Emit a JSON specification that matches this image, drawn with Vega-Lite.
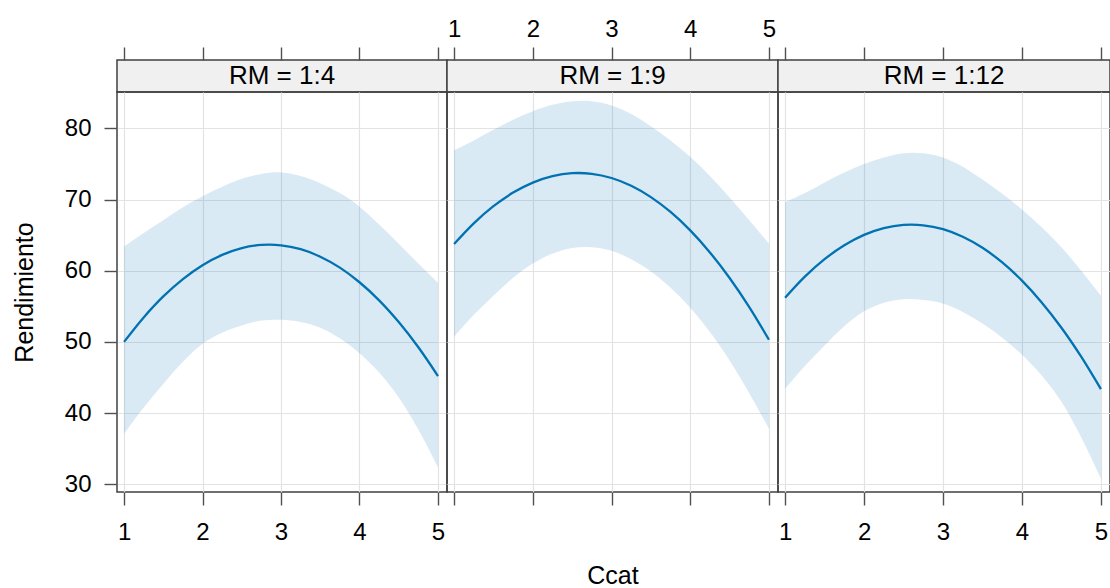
{
  "$schema": "https://vega.github.io/schema/vega-lite/v6.json",
  "padding": {"left": 11, "top": 16, "right": 0, "bottom": 0},
  "background": "white",
  "config": {
    "font": "Liberation Sans",
    "view": {"stroke": "#404040", "strokeWidth": 1.5},
    "axis": {
      "labelFont": "Liberation Sans", "titleFont": "Liberation Sans",
      "labelFontSize": 24, "titleFontSize": 25, "titleFontWeight": "normal",
      "labelColor": "black", "titleColor": "black",
      "tickColor": "#505050", "tickWidth": 1.4, "tickSize": 13,
      "gridColor": "#e3e3e3", "gridWidth": 1.2, "domain": false
    },
    "text": {"font": "Liberation Sans"}
  },
  "datasets": {
    "fit": [
      {"RM": "1:4", "Ccat": 1, "fit": 50.00, "lower": 37.1, "upper": 63.4},
      {"RM": "1:4", "Ccat": 1.25, "fit": 53.44, "lower": 40.8, "upper": 65.3},
      {"RM": "1:4", "Ccat": 1.5, "fit": 56.39, "lower": 44.1, "upper": 67.1},
      {"RM": "1:4", "Ccat": 1.75, "fit": 58.83, "lower": 47.2, "upper": 68.9},
      {"RM": "1:4", "Ccat": 2, "fit": 60.78, "lower": 49.75, "upper": 70.45},
      {"RM": "1:4", "Ccat": 2.25, "fit": 62.22, "lower": 51.3, "upper": 71.8},
      {"RM": "1:4", "Ccat": 2.5, "fit": 63.17, "lower": 52.3, "upper": 72.9},
      {"RM": "1:4", "Ccat": 2.75, "fit": 63.62, "lower": 53.0, "upper": 73.6},
      {"RM": "1:4", "Ccat": 3, "fit": 63.57, "lower": 53.1, "upper": 73.8},
      {"RM": "1:4", "Ccat": 3.25, "fit": 63.02, "lower": 52.8, "upper": 73.3},
      {"RM": "1:4", "Ccat": 3.5, "fit": 61.97, "lower": 52.0, "upper": 72.3},
      {"RM": "1:4", "Ccat": 3.75, "fit": 60.43, "lower": 50.5, "upper": 70.9},
      {"RM": "1:4", "Ccat": 4, "fit": 58.38, "lower": 48.4, "upper": 69.0},
      {"RM": "1:4", "Ccat": 4.25, "fit": 55.84, "lower": 45.7, "upper": 66.5},
      {"RM": "1:4", "Ccat": 4.5, "fit": 52.79, "lower": 42.2, "upper": 63.8},
      {"RM": "1:4", "Ccat": 4.75, "fit": 49.25, "lower": 37.7, "upper": 61.0},
      {"RM": "1:4", "Ccat": 5, "fit": 45.21, "lower": 32.4, "upper": 58.3},
      {"RM": "1:9", "Ccat": 1, "fit": 63.74, "lower": 50.7, "upper": 76.9},
      {"RM": "1:9", "Ccat": 1.25, "fit": 66.65, "lower": 53.8, "upper": 78.3},
      {"RM": "1:9", "Ccat": 1.5, "fit": 69.06, "lower": 56.5, "upper": 79.8},
      {"RM": "1:9", "Ccat": 1.75, "fit": 70.97, "lower": 59.0, "upper": 81.2},
      {"RM": "1:9", "Ccat": 2, "fit": 72.38, "lower": 61.0, "upper": 82.4},
      {"RM": "1:9", "Ccat": 2.25, "fit": 73.29, "lower": 62.4, "upper": 83.3},
      {"RM": "1:9", "Ccat": 2.5, "fit": 73.70, "lower": 63.2, "upper": 83.8},
      {"RM": "1:9", "Ccat": 2.75, "fit": 73.61, "lower": 63.3, "upper": 83.8},
      {"RM": "1:9", "Ccat": 3, "fit": 73.02, "lower": 62.8, "upper": 83.2},
      {"RM": "1:9", "Ccat": 3.25, "fit": 71.93, "lower": 61.6, "upper": 82.0},
      {"RM": "1:9", "Ccat": 3.5, "fit": 70.34, "lower": 59.9, "upper": 80.3},
      {"RM": "1:9", "Ccat": 3.75, "fit": 68.25, "lower": 57.6, "upper": 78.3},
      {"RM": "1:9", "Ccat": 4, "fit": 65.66, "lower": 54.8, "upper": 76.0},
      {"RM": "1:9", "Ccat": 4.25, "fit": 62.57, "lower": 51.4, "upper": 73.3},
      {"RM": "1:9", "Ccat": 4.5, "fit": 58.98, "lower": 47.4, "upper": 70.3},
      {"RM": "1:9", "Ccat": 4.75, "fit": 54.89, "lower": 42.8, "upper": 67.1},
      {"RM": "1:9", "Ccat": 5, "fit": 50.30, "lower": 37.8, "upper": 63.8},
      {"RM": "1:12", "Ccat": 1, "fit": 56.20, "lower": 43.4, "upper": 69.6},
      {"RM": "1:12", "Ccat": 1.25, "fit": 59.16, "lower": 46.6, "upper": 70.9},
      {"RM": "1:12", "Ccat": 1.5, "fit": 61.62, "lower": 49.5, "upper": 72.4},
      {"RM": "1:12", "Ccat": 1.75, "fit": 63.57, "lower": 52.2, "upper": 73.8},
      {"RM": "1:12", "Ccat": 2, "fit": 65.03, "lower": 54.3, "upper": 75.0},
      {"RM": "1:12", "Ccat": 2.25, "fit": 65.98, "lower": 55.5, "upper": 75.9},
      {"RM": "1:12", "Ccat": 2.5, "fit": 66.43, "lower": 56.0, "upper": 76.5},
      {"RM": "1:12", "Ccat": 2.75, "fit": 66.38, "lower": 55.9, "upper": 76.5},
      {"RM": "1:12", "Ccat": 3, "fit": 65.83, "lower": 55.4, "upper": 75.9},
      {"RM": "1:12", "Ccat": 3.25, "fit": 64.77, "lower": 54.2, "upper": 74.6},
      {"RM": "1:12", "Ccat": 3.5, "fit": 63.22, "lower": 52.6, "upper": 72.8},
      {"RM": "1:12", "Ccat": 3.75, "fit": 61.16, "lower": 50.6, "upper": 70.8},
      {"RM": "1:12", "Ccat": 4, "fit": 58.61, "lower": 48.2, "upper": 68.6},
      {"RM": "1:12", "Ccat": 4.25, "fit": 55.55, "lower": 45.3, "upper": 66.1},
      {"RM": "1:12", "Ccat": 4.5, "fit": 51.99, "lower": 41.6, "upper": 63.3},
      {"RM": "1:12", "Ccat": 4.75, "fit": 47.92, "lower": 36.6, "upper": 60.0},
      {"RM": "1:12", "Ccat": 5, "fit": 43.36, "lower": 30.8, "upper": 56.5}
    ],
    "strips": [
      {"RM": "1:4", "label": "RM = 1:4"},
      {"RM": "1:9", "label": "RM = 1:9"},
      {"RM": "1:12", "label": "RM = 1:12"}
    ]
  },
  "columns": 3,
  "spacing": 0,
  "bounds": "flush",
  "concat": [
    {
      "width": 330, "height": 32,
      "view": {"fill": "#f0f0f0", "stroke": "#404040", "strokeWidth": 1.5},
      "layer": [
        {
          "data": {"name": "fit"},
          "transform": [{"filter": "datum.RM === '1:4'"}],
          "mark": {"type": "point", "opacity": 0},
          "encoding": {
            "x": {"field": "Ccat", "type": "quantitative",
              "scale": {"domain": [0.91, 5.115], "nice": false, "zero": false},
              "axis": {"orient": "top", "values": [1, 2, 3, 4, 5], "labels": false, "grid": false, "title": null}}
          }
        },
        {
          "data": {"name": "strips"},
          "transform": [{"filter": "datum.RM === '1:4'"}],
          "mark": {"type": "text", "fontSize": 26, "baseline": "middle", "align": "center", "color": "black"},
          "encoding": {"text": {"field": "label", "type": "nominal"}}
        }
      ]
    },
    {
      "width": 331, "height": 32,
      "view": {"fill": "#f0f0f0", "stroke": "#404040", "strokeWidth": 1.5},
      "layer": [
        {
          "data": {"name": "fit"},
          "transform": [{"filter": "datum.RM === '1:9'"}],
          "mark": {"type": "point", "opacity": 0},
          "encoding": {
            "x": {"field": "Ccat", "type": "quantitative",
              "scale": {"domain": [0.91, 5.115], "nice": false, "zero": false},
              "axis": {"orient": "top", "values": [1, 2, 3, 4, 5], "format": "d", "labels": true, "labelPadding": 6, "grid": false, "title": null}}
          }
        },
        {
          "data": {"name": "strips"},
          "transform": [{"filter": "datum.RM === '1:9'"}],
          "mark": {"type": "text", "fontSize": 26, "baseline": "middle", "align": "center", "color": "black"},
          "encoding": {"text": {"field": "label", "type": "nominal"}}
        }
      ]
    },
    {
      "width": 332, "height": 32,
      "view": {"fill": "#f0f0f0", "stroke": "#404040", "strokeWidth": 1.5},
      "layer": [
        {
          "data": {"name": "fit"},
          "transform": [{"filter": "datum.RM === '1:12'"}],
          "mark": {"type": "point", "opacity": 0},
          "encoding": {
            "x": {"field": "Ccat", "type": "quantitative",
              "scale": {"domain": [0.91, 5.115], "nice": false, "zero": false},
              "axis": {"orient": "top", "values": [1, 2, 3, 4, 5], "labels": false, "grid": false, "title": null}}
          }
        },
        {
          "data": {"name": "strips"},
          "transform": [{"filter": "datum.RM === '1:12'"}],
          "mark": {"type": "text", "fontSize": 26, "baseline": "middle", "align": "center", "color": "black"},
          "encoding": {"text": {"field": "label", "type": "nominal"}}
        }
      ]
    },
    {
      "width": 330, "height": 400,
      "data": {"name": "fit"},
      "transform": [{"filter": "datum.RM === '1:4'"}],
      "encoding": {
        "x": {"field": "Ccat", "type": "quantitative",
          "scale": {"domain": [0.91, 5.115], "nice": false, "zero": false},
          "axis": {"orient": "bottom", "values": [1, 2, 3, 4, 5], "format": "d", "labelPadding": 15, "grid": true, "title": null}}
      },
      "layer": [
        {
          "mark": {"type": "area", "color": "#0072B2", "opacity": 0.15, "interpolate": "catmull-rom"},
          "encoding": {
            "y": {"field": "lower", "type": "quantitative",
              "scale": {"domain": [28.92, 85.1], "nice": false, "zero": false},
              "axis": {"orient": "left", "values": [30, 40, 50, 60, 70, 80], "labelPadding": 13, "grid": true, "title": "Rendimiento", "titlePadding": 27}},
            "y2": {"field": "upper"}
          }
        },
        {
          "mark": {"type": "line", "color": "#0072B2", "strokeWidth": 2.3, "interpolate": "catmull-rom"},
          "encoding": {
            "y": {"field": "fit", "type": "quantitative",
              "scale": {"domain": [28.92, 85.1], "nice": false, "zero": false},
              "axis": {"orient": "left", "values": [30, 40, 50, 60, 70, 80], "labelPadding": 13, "grid": true, "title": "Rendimiento", "titlePadding": 27}}
          }
        }
      ]
    },
    {
      "width": 331, "height": 400,
      "data": {"name": "fit"},
      "transform": [{"filter": "datum.RM === '1:9'"}],
      "encoding": {
        "x": {"field": "Ccat", "type": "quantitative",
          "scale": {"domain": [0.91, 5.115], "nice": false, "zero": false},
          "axis": {"orient": "bottom", "values": [1, 2, 3, 4, 5], "labels": false, "grid": true, "title": "Ccat", "titlePadding": 58}}
      },
      "layer": [
        {
          "mark": {"type": "area", "color": "#0072B2", "opacity": 0.15, "interpolate": "catmull-rom"},
          "encoding": {
            "y": {"field": "lower", "type": "quantitative",
              "scale": {"domain": [28.92, 85.1], "nice": false, "zero": false},
              "axis": {"orient": "left", "values": [30, 40, 50, 60, 70, 80], "labels": false, "ticks": false, "grid": true, "title": null}},
            "y2": {"field": "upper"}
          }
        },
        {
          "mark": {"type": "line", "color": "#0072B2", "strokeWidth": 2.3, "interpolate": "catmull-rom"},
          "encoding": {
            "y": {"field": "fit", "type": "quantitative",
              "scale": {"domain": [28.92, 85.1], "nice": false, "zero": false},
              "axis": {"orient": "left", "values": [30, 40, 50, 60, 70, 80], "labels": false, "ticks": false, "grid": true, "title": null}}
          }
        }
      ]
    },
    {
      "width": 332, "height": 400,
      "data": {"name": "fit"},
      "transform": [{"filter": "datum.RM === '1:12'"}],
      "encoding": {
        "x": {"field": "Ccat", "type": "quantitative",
          "scale": {"domain": [0.91, 5.115], "nice": false, "zero": false},
          "axis": {"orient": "bottom", "values": [1, 2, 3, 4, 5], "format": "d", "labelPadding": 15, "grid": true, "title": null}}
      },
      "layer": [
        {
          "mark": {"type": "area", "color": "#0072B2", "opacity": 0.15, "interpolate": "catmull-rom"},
          "encoding": {
            "y": {"field": "lower", "type": "quantitative",
              "scale": {"domain": [28.92, 85.1], "nice": false, "zero": false},
              "axis": {"orient": "left", "values": [30, 40, 50, 60, 70, 80], "labels": false, "ticks": false, "grid": true, "title": null}},
            "y2": {"field": "upper"}
          }
        },
        {
          "mark": {"type": "line", "color": "#0072B2", "strokeWidth": 2.3, "interpolate": "catmull-rom"},
          "encoding": {
            "y": {"field": "fit", "type": "quantitative",
              "scale": {"domain": [28.92, 85.1], "nice": false, "zero": false},
              "axis": {"orient": "left", "values": [30, 40, 50, 60, 70, 80], "labels": false, "ticks": false, "grid": true, "title": null}}
          }
        }
      ]
    }
  ]
}
